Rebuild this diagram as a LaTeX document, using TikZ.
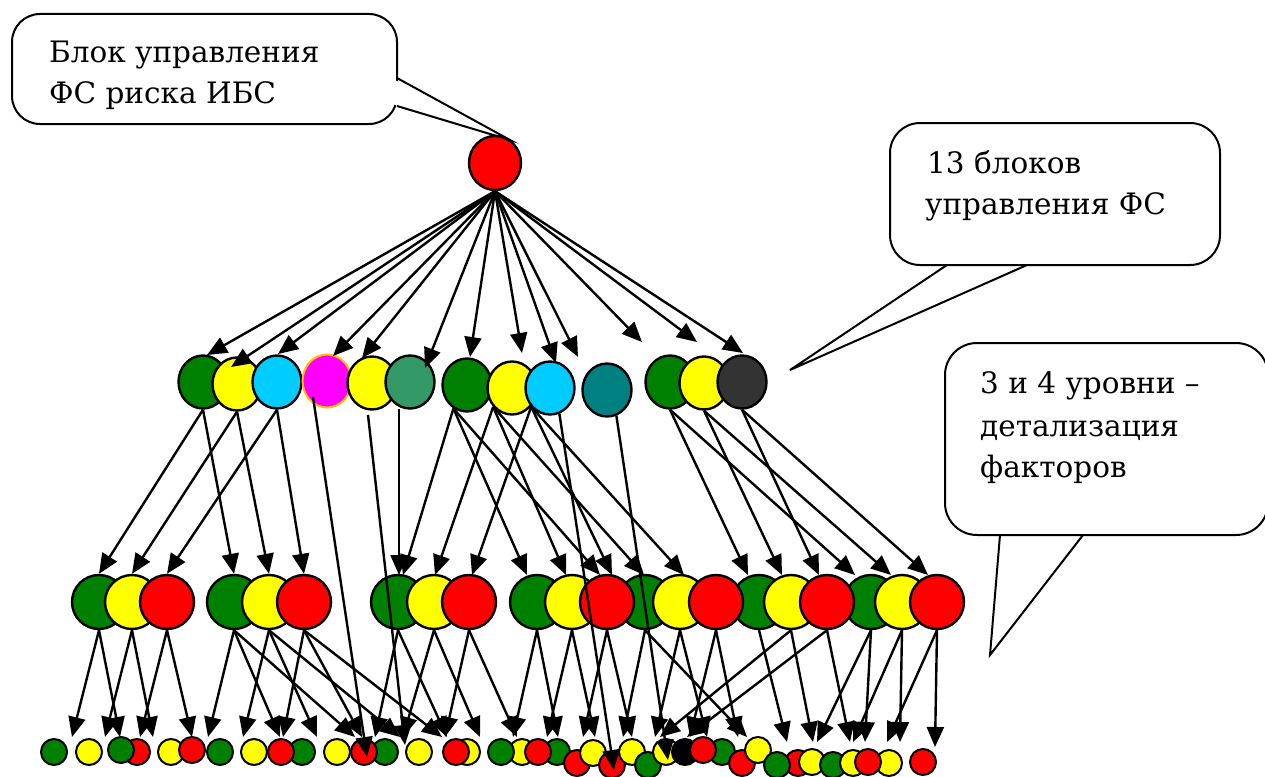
\documentclass[tikz,border=0pt]{standalone}
\usepackage{fontspec}
\setmainfont{DejaVu Serif}
\newfontfamily\calfont{DejaVu Serif}
\usetikzlibrary{arrows.meta,shapes.geometric}
\definecolor{cG}{HTML}{008000}
\definecolor{cY}{HTML}{FFFF00}
\definecolor{cR}{HTML}{FF0000}
\definecolor{cC}{HTML}{00CCFF}
\definecolor{cM}{HTML}{FF00FF}
\definecolor{cO}{HTML}{FFC000}
\definecolor{cS}{HTML}{339966}
\definecolor{cT}{HTML}{008080}
\definecolor{cD}{HTML}{333333}
\definecolor{cK}{HTML}{000000}
\begin{document}
\begin{tikzpicture}[x=1pt,y=-1pt,
  ball/.style={ellipse, draw=black, line width=2.4pt, inner sep=0pt},
  bone/.style={ball, minimum width=52pt, minimum height=54pt},
  btwo/.style={ball, minimum width=49pt, minimum height=53pt},
  bthree/.style={ball, minimum width=54pt, minimum height=54pt},
  bfour/.style={circle, draw=black, line width=2pt, inner sep=0pt, minimum size=26pt},
  arr/.style={line width=2.4pt, -{Triangle[length=20pt,width=17pt]}},
  callout/.style={draw=black, line width=2pt, fill=white},
  wedgeline/.style={draw=black, line width=2pt, line join=miter},
  lbl/.style={anchor=base west, inner sep=0pt, font=\calfont\fontsize{29.5}{41}\selectfont}]
\useasboundingbox (0,0) rectangle (1265,776);
\clip (0,0) rectangle (1265,776);
\fill[white] (0,0) rectangle (1265,776);

% ---------- callouts ----------
\draw[callout, rounded corners=28pt] (12,14) rectangle (397,124);
\coordinate (w1a) at (397,78); \coordinate (w1t) at (510,140); \coordinate (w1b) at (397,106);
\fill[white] (394,79.5) -- (w1t) -- (394,104.5) -- cycle;
\draw[wedgeline] (w1a) -- (w1t) -- (w1b);
\node[lbl] (t1) at (49,63) {Блок управления};
\node[lbl] (t2) at (49,103) {ФС риска ИБС};

\draw[callout, rounded corners=30pt] (890,123) rectangle (1220,265);
\coordinate (w2a) at (1027,265); \coordinate (w2t) at (790,370); \coordinate (w2b) at (947,265);
\fill[white] (1025.5,268) -- (w2t) -- (948.5,268) -- cycle;
\draw[wedgeline] (w2a) -- (w2t) -- (w2b);
\node[lbl] (t3) at (927,173) {13 блоков};
\node[lbl] (t4) at (925,214) {управления ФС};

\draw[callout, rounded corners=32pt] (945,343) rectangle (1268,535);
\coordinate (w3a) at (1083,535); \coordinate (w3t) at (990,655); \coordinate (w3b) at (1000,535);
\fill[white] (1081.5,538) -- (w3t) -- (1001.5,538) -- cycle;
\draw[wedgeline] (w3a) -- (w3t) -- (w3b);
\node[lbl] (t5) at (980,393) {3 и 4 уровни –};
\node[lbl] (t6) at (980,436) {детализация};
\node[lbl] (t7) at (980,477) {факторов};

% ---------- level 1 ----------
\node[bone, fill=cR] (top) at (495,163) {};

% ---------- level 2 ----------
\node[btwo, fill=cG] (m1) at (203,382) {};
\node[btwo, fill=cY] (m2) at (237,384) {};
\node[btwo, fill=cC] (m3) at (277,382) {};
\node[btwo, fill=cM, draw=cO, line width=2pt] (m4) at (327,381) {};
\node[btwo, fill=cY] (m5) at (372,383) {};
\node[btwo, fill=cS] (m6) at (410,382) {};
\node[btwo, fill=cG] (m7) at (467,385) {};
\node[btwo, fill=cY] (m8) at (512,388) {};
\node[btwo, fill=cC] (m9) at (550,388) {};
\node[btwo, fill=cT] (m10) at (607,390) {};
\node[btwo, fill=cG] (m11) at (670,382) {};
\node[btwo, fill=cY] (m12) at (704,383) {};
\node[btwo, fill=cD] (m13) at (742,382) {};

% ---------- level 3 ----------
\foreach \i/\x in {1/99,2/234,3/398,4/537,5/645,6/759,7/871}
  \node[bthree, fill=cG] (a\i g) at (\x,602) {};
\foreach \i/\x in {1/132,2/269,3/434,4/572,5/680,6/791,7/902}
  \node[bthree, fill=cY] (a\i y) at (\x,602) {};
\foreach \i/\x in {1/167,2/304,3/469,4/607,5/716,6/827,7/937}
  \node[bthree, fill=cR] (a\i r) at (\x,602) {};

% ---------- level 4 ----------
\foreach \n/\c/\x/\y in {
  1/cG/54/752, 2/cY/89/752, 3/cR/137/752, 4/cG/121/750,
  5/cY/171/752, 6/cR/192/750, 7/cG/220/752, 8/cY/254/752,
  9/cG/302/752, 10/cR/281/752, 11/cY/337/752, 12/cG/385/752,
  13/cR/364/752, 14/cY/419/752, 15/cY/467/752, 16/cR/456/752,
  17/cY/522/752, 18/cG/501/752, 19/cG/557/752, 20/cR/538/752,
  21/cR/577/763, 22/cY/593/753, 23/cR/612/765, 24/cY/632/752,
  25/cG/648/765, 26/cY/666/752, 27/cK/685/752, 28/cG/722/752,
  29/cR/703/750, 30/cR/742/763, 31/cY/758/750, 32/cR/798/763,
  33/cG/777/765, 34/cY/812/762, 35/cG/833/765, 36/cY/853/763,
  37/cY/889/763, 38/cR/868/762, 39/cR/923/762}
  \node[bfour, fill=\c] (d\n) at (\x,\y) {};

% ---------- arrows level 1 -> 2 ----------
\foreach \i/\x/\y in {1/207/355, 2/231/367, 3/278/354, 4/333/356, 5/362/358,
  6/425/368, 7/470/357, 8/522/353, 9/556/363, 10/578/357, 11/642/342,
  12/697/342, 13/743/353} {
  \coordinate (p\i) at (\x,\y);
  \draw[arr] (top.south) -- (p\i);
}

% ---------- arrows level 2 -> 3 ----------
\draw[arr] (m1.south) -- (a1g.north);
\draw[arr] (m1.south) -- (a2g.north);
\draw[arr] (m2.south) -- (a1y.north);
\draw[arr] (m2.south) -- (a2y.north);
\draw[arr] (m3.south) -- (a1r.north);
\draw[arr] (m3.south) -- (a2r.north);
\coordinate (s4) at (313,397);
\coordinate (e4) at (367,757);
\draw[arr] (s4) -- (e4);
\coordinate (s5) at (368,415);
\coordinate (e5) at (405,745);
\draw[arr] (s5) -- (e5);
\coordinate (s6) at (399,409);
\coordinate (e6) at (399,575);
\draw[arr] (s6) -- (e6);
\foreach \x/\y in {403/575, 527/575, 600/575}
  {\coordinate (q) at (\x,\y); \draw[arr] (m7.240) -- (q);}
\foreach \x/\y in {435/575, 566/575, 644/575}
  {\coordinate (q) at (\x,\y); \draw[arr] (m8.225) -- (q);}
\foreach \x/\y in {472/575, 612/575, 684/575}
  {\coordinate (q) at (\x,\y); \draw[arr] (m9.225) -- (q);}
\coordinate (e9) at (614,770);
\draw[arr] (m9.290) -- (e9);
\coordinate (e10) at (668,760);
\draw[arr] (m10.290) -- (e10);
\foreach \x/\y in {748/575, 855/575}
  {\coordinate (q) at (\x,\y); \draw[arr] (m11.south) -- (q);}
\foreach \x/\y in {782/575, 891/575}
  {\coordinate (q) at (\x,\y); \draw[arr] (m12.south) -- (q);}
\foreach \x/\y in {819/575, 928/575}
  {\coordinate (q) at (\x,\y); \draw[arr] (m13.south) -- (q);}

% ---------- arrows level 3 -> 4 ----------
\foreach \s/\x/\y in {a1g/72/737, a1g/120/737, a1y/105/737, a1y/153/737,
  a1r/140/737, a1r/192/737,
  a2g/208/737, a2g/280/737, a2g/355/737,
  a2y/243/737, a2y/317/737, a2y/400/737,
  a2r/283/737, a2r/362/737, a2r/442/737,
  a3g/375/737, a3g/447/737, a3y/403/737, a3y/480/737, a3r/445/737, a3r/517/737,
  a4g/513/737, a4g/558/737, a4y/547/737, a4y/595/737, a4r/583/737, a4r/632/737,
  a5g/623/737, a5g/747/737, a5y/655/737, a5y/707/737, a5r/690/737, a5r/738/737,
  a6g/787/742, a6y/813/742, a6y/660/737, a6r/850/742, a6r/687/737,
  a7g/865/742, a7g/817/742, a7y/900/742, a7y/853/742, a7r/935/747, a7r/887/742}
  {\coordinate (q) at (\x,\y); \draw[arr] (\s.south) -- (q);}
\end{tikzpicture}
\end{document}
